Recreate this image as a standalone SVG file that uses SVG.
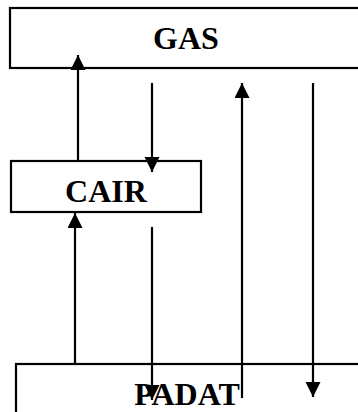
<svg xmlns="http://www.w3.org/2000/svg" width="358" height="412" viewBox="0 0 358 412">
<style>
.box{fill:#fff;stroke:#000;stroke-width:2.2}
.lbl{font-family:"Liberation Serif",serif;font-weight:bold;font-size:32px;fill:#000;text-anchor:middle}
.c{stroke:#000;stroke-width:2.2;fill:none;marker-end:url(#ah)}
</style>
<defs>
<marker id="ah" markerUnits="userSpaceOnUse" markerWidth="16" markerHeight="16" refX="15" refY="7.5" orient="auto" viewBox="0 0 16 16">
<path d="M0,0 L15,7.5 L0,15 z" fill="#000"/>
</marker>
</defs>
<rect width="358" height="412" fill="#fff"/>
<g id="gas">
<rect class="box" x="10" y="8" width="360" height="60"/>
<text class="lbl" x="186" y="49">GAS</text>
</g>
<g id="cair">
<rect class="box" x="11" y="161" width="190" height="51"/>
<text class="lbl" x="106" y="202">CAIR</text>
</g>
<g id="padat">
<rect class="box" x="16" y="364" width="360" height="60"/>
<text class="lbl" x="187" y="405">PADAT</text>
</g>
<g id="connectors">
<line class="c" x1="78" y1="161" x2="78" y2="55"/>
<line class="c" x1="152" y1="83" x2="152" y2="172"/>
<line class="c" x1="242" y1="398" x2="242" y2="83"/>
<line class="c" x1="313" y1="83" x2="313" y2="397"/>
<line class="c" x1="75" y1="364" x2="75" y2="213"/>
<line class="c" x1="152" y1="227" x2="152" y2="400"/>
</g>
</svg>
